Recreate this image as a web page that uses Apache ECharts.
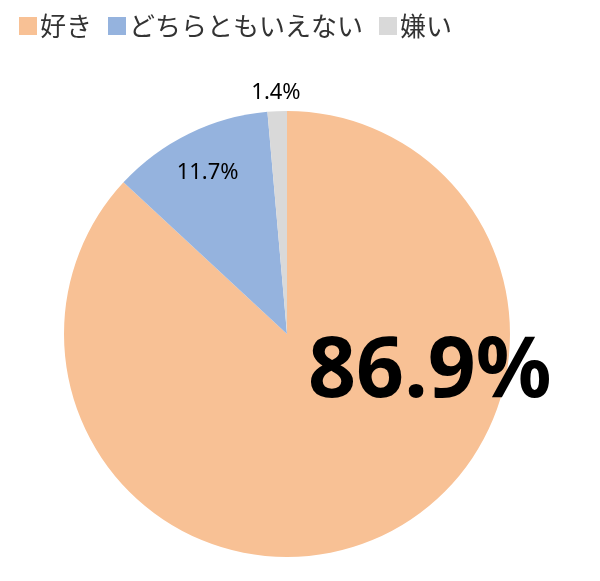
<!DOCTYPE html>
<html lang="ja">
  <head>
    <meta charset="UTF-8" />
    <title>好き嫌い</title>
    <script src="https://cdn.jsdelivr.net/npm/echarts@6/dist/echarts.min.js"></script>
  </head>
  <body style="margin: 0">
    <div id="container" style="width: 600px; height: 581px"></div>
    <script>
      const names = ["好き", "どちらともいえない", "嫌い"];
      const values = [86.9, 11.7, 1.4];
      const colors = ["#F8C195", "#95B3DE", "#D9D9D9"];
      // 各ラベルの見た目（位置ずれ・文字サイズ）
      const labelStyles = [
        { offset: [97, -66], fontSize: 84, fontWeight: "bold" },
        { offset: [-29, -58], fontSize: 22, fontWeight: "normal" },
        { offset: [-6, -127], fontSize: 22, fontWeight: "normal" }
      ];

      let myChart = echarts.init(document.getElementById("container"));
      let option = {
        animation: false,
        legend: {
          top: 8,
          left: 14,
          itemWidth: 18,
          itemHeight: 18,
          itemGap: 16,
          icon: "rect",
          textStyle: {
            fontSize: 26,
            color: "#333",
            fontFamily: "Noto Sans CJK JP",
            padding: [0, 0, 0, -2]
          },
          data: names
        },
        series: [
          {
            type: "pie",
            center: [287, 334],
            radius: 223,
            startAngle: 90,
            clockwise: true,
            label: {
              show: true,
              position: "inside",
              color: "#000",
              fontFamily: "Noto Sans, sans-serif",
              formatter: p => p.value.toFixed(1) + "%"
            },
            labelLine: { show: false },
            emphasis: { disabled: true },
            data: names.map((n, i) => ({
              name: n,
              value: values[i],
              itemStyle: { color: colors[i] },
              label: labelStyles[i]
            }))
          }
        ]
      };
      myChart.setOption(option);
    </script>
  </body>
</html>
